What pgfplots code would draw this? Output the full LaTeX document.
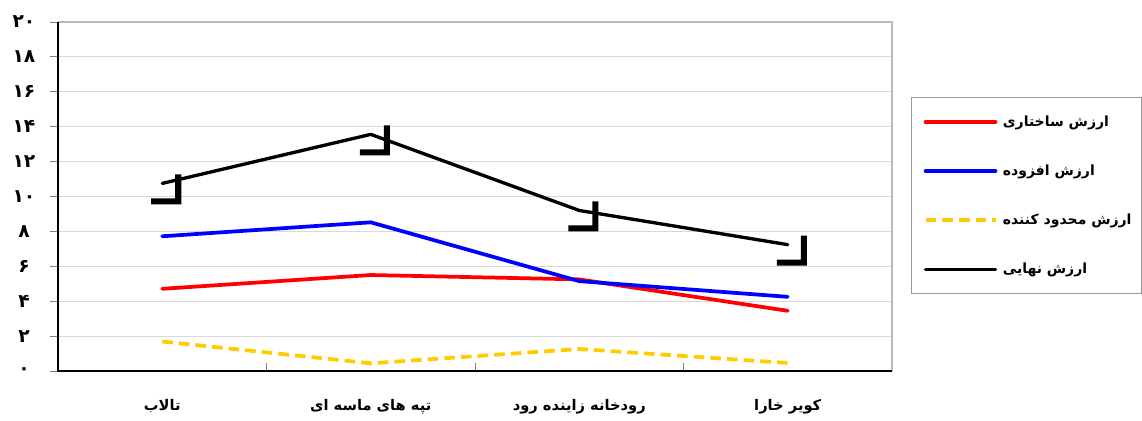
\documentclass[border=0pt]{standalone}
\usepackage{pgfplots}
\pgfplotsset{compat=1.18}
\usepackage{fontspec}
\TeXXeTstate=1
\newfontfamily\arabicfont[Script=Arabic]{DejaVu Sans}
\newcommand{\fn}[1]{{\arabicfont\bfseries #1}}
\definecolor{myred}{RGB}{255,0,0}
\definecolor{myblue}{RGB}{0,0,255}
\definecolor{myyellow}{RGB}{255,204,0}
\pgfdeclareplotmark{Lbar}{%
  \pgfpathrectangle{\pgfpoint{9.75pt}{-15.75pt}}{\pgfpoint{4.5pt}{22.5pt}}%
  \pgfpathrectangle{\pgfpoint{-8.25pt}{-15.75pt}}{\pgfpoint{22.5pt}{4.5pt}}%
  \pgfusepathqfill}
\begin{document}
\begin{tikzpicture}
\useasboundingbox (-43.5pt,-37.5pt) rectangle (813pt,278.25pt);
\begin{axis}[
  at={(0pt,0pt)}, anchor=south west,
  scale only axis, width=625.5pt, height=261.75pt,
  xmin=-0.5, xmax=3.5, ymin=0, ymax=20,
  clip=false,
  axis line style={draw=none},
  xtick={0,1,2,3},
  xticklabels={{\arabicfont\bfseries\beginR تالاب\endR},{\arabicfont\bfseries\beginR تپه های ماسه ای\endR},{\arabicfont\bfseries\beginR رودخانه زاینده رود\endR},{\arabicfont\bfseries\beginR کویر خارا\endR}},
  x tick style={draw=none},
  xticklabel style={yshift=-12pt, font=\fontsize{11}{12}\selectfont},
  ytick={0,2,...,20},
  yticklabels={\fn{۰},\fn{۲},\fn{۴},\fn{۶},\fn{۸},\fn{۱۰},\fn{۱۲},\fn{۱۴},\fn{۱۶},\fn{۱۸},\fn{۲۰}},
  yticklabel style={font=\fontsize{14}{14}\selectfont, text width=22pt, align=center, xshift=-5pt},
  y tick style={draw=gray, line width=0.7pt},
  tick align=outside, major tick length=6pt,
  xtick pos=bottom, ytick pos=left,
  ymajorgrids, grid style={draw=gray!30, line width=0.8pt},
  legend style={at={(1.0228,0.785)}, anchor=north west, draw=gray!80, line width=0.8pt,
    inner sep=0pt, row sep=0pt, column sep=0pt, nodes={inner sep=0pt},
    font=\fontsize{10.5}{12}\selectfont},
  legend cell align=left,
  legend image code/.code={%
    \path[draw=none,fill=none] (-10.5pt,-18.4pt) rectangle (58pt,18.4pt);
    \draw[#1] (0pt,0pt) -- (52.5pt,0pt);},
]
\draw[gray!55, line width=1pt] (rel axis cs:0,1) -- (rel axis cs:1,1) -- (rel axis cs:1,0);
\draw[gray, line width=0.7pt] (axis cs:0.5,0) -- ++(0pt,6pt);
\draw[gray, line width=0.7pt] (axis cs:1.5,0) -- ++(0pt,6pt);
\draw[gray, line width=0.7pt] (axis cs:2.5,0) -- ++(0pt,6pt);
\addplot[myred, line width=2.8pt, line join=round, line cap=round] coordinates {(0,4.71)(1,5.50)(2,5.25)(3,3.45)};
\addplot[myblue, line width=2.8pt, line join=round, line cap=round] coordinates {(0,7.72)(1,8.52)(2,5.15)(3,4.25)};
\addplot[myyellow, line width=2.8pt, dash pattern=on 8pt off 4.5pt] coordinates {(0,1.69)(1,0.44)(2,1.26)(3,0.46)};
\addplot[black, line width=2.5pt, line join=round, line cap=round] coordinates {(0,10.75)(1,13.56)(2,9.2)(3,7.24)};
\addplot[only marks, mark=Lbar, fill=black, draw=none, forget plot] coordinates {(0,10.75)(1,13.56)(2,9.2)(3,7.24)};
\draw[black, line width=0.9pt] (rel axis cs:1,0) -- (rel axis cs:0,0) -- (rel axis cs:0,1);
\legend{\makebox[104pt][l]{\arabicfont\bfseries\beginR ارزش ساختاری\endR},\makebox[104pt][l]{\arabicfont\bfseries\beginR ارزش افزوده\endR},\makebox[104pt][l]{\arabicfont\bfseries\beginR ارزش محدود کننده\endR},\makebox[104pt][l]{\arabicfont\bfseries\beginR ارزش نهایی\endR}}
\end{axis}
\end{tikzpicture}
\end{document}
